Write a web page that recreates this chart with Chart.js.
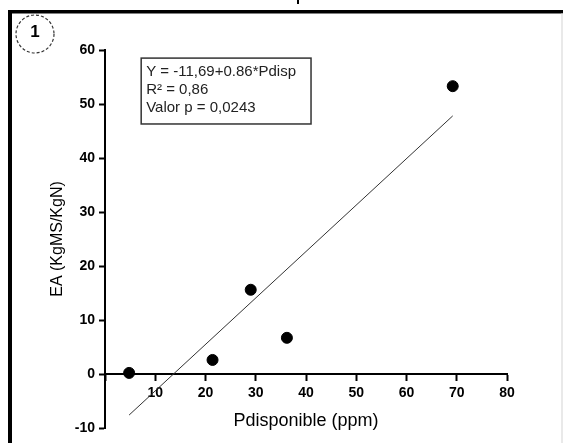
<!DOCTYPE html>
<html>
<head>
<meta charset="utf-8">
<script src="https://cdn.jsdelivr.net/npm/chart.js@4"></script>
<style>
  html, body { margin: 0; background: #fff; }
  canvas { display: block; }
</style>
</head>
<body>
<canvas id="chart" width="563" height="443"></canvas>
<script>
// data
const pDisp  = [4.8, 21.4, 29, 36.2, 69.2];
const eaVals = [0.2, 2.6, 15.6, 6.7, 53.3];
// fitted line end points (Y = -11,69 + 0.86*Pdisp)
const fitX = [4.8, 69.2];
const fitY = [-7.6, 47.8];
const xTicks = [0, 10, 20, 30, 40, 50, 60, 70, 80];
const yTicks = [-10, 0, 10, 20, 30, 40, 50, 60];
const statLines = ['Y = -11,69+0.86*Pdisp', 'R² = 0,86', 'Valor p = 0,0243'];
// stats box corners in data units
const boxX = [7.2, 41];
const boxY = [58.5, 46.3];

const FONT = "'Liberation Sans', Arial, sans-serif";

const framePlugin = {
  id: 'frame',
  beforeDraw(chart){
    const c = chart.ctx;
    c.save();
    c.fillStyle = '#fff';
    c.fillRect(0, 0, chart.width, chart.height);
    c.fillStyle = '#000';
    c.fillRect(8, 10, chart.width - 8, 3.5);
    c.fillRect(8, 10, 4, chart.height - 10);
    c.fillRect(297, 0, 2, 4);
    c.fillStyle = '#d4d4d4';
    c.fillRect(chart.width - 1.5, 13, 1, chart.height - 13);
    // panel number
    c.strokeStyle = '#333';
    c.lineWidth = 1.2;
    c.setLineDash([3, 2]);
    c.beginPath();
    c.arc(35, 34, 19, 0, Math.PI * 2);
    c.stroke();
    c.setLineDash([]);
    c.fillStyle = '#000';
    c.font = 'bold 17px ' + FONT;
    c.textAlign = 'center';
    c.textBaseline = 'middle';
    c.fillText('1', 35, 32);
    c.restore();
  }
};

const statsPlugin = {
  id: 'stats',
  afterDraw(chart){
    const c = chart.ctx, xs = chart.scales.x, ys = chart.scales.y;
    const l = xs.getPixelForValue(boxX[0]), r = xs.getPixelForValue(boxX[1]);
    const t = ys.getPixelForValue(boxY[0]), b = ys.getPixelForValue(boxY[1]);
    c.save();
    c.fillStyle = '#fff';
    c.fillRect(l, t, r - l, b - t);
    c.strokeStyle = '#333';
    c.lineWidth = 1.5;
    c.strokeRect(l, t, r - l, b - t);
    c.fillStyle = '#222';
    c.font = '15px ' + FONT;
    c.textAlign = 'left';
    c.textBaseline = 'alphabetic';
    statLines.forEach((s, i) => c.fillText(s, l + 5, t + 18 + i * 18));
    c.restore();
  }
};

new Chart(document.getElementById('chart').getContext('2d'), {
  type: 'scatter',
  data: {
    datasets: [
      {
        data: pDisp.map((x, i) => ({x, y: eaVals[i]})),
        backgroundColor: '#000', borderColor: '#000',
        pointRadius: 5.5, pointHoverRadius: 5.5
      },
      {
        data: fitX.map((x, i) => ({x, y: fitY[i]})),
        showLine: true, borderColor: '#333', borderWidth: 1,
        pointRadius: 0, fill: false
      }
    ]
  },
  options: {
    responsive: false,
    animation: false,
    layout: {padding: {top: 50, bottom: 15, left: 0, right: 56}},
    plugins: {legend: {display: false}, tooltip: {enabled: false}},
    scales: {
      x: {
        type: 'linear',
        position: {y: 0},
        min: 0, max: 80,
        afterBuildTicks: s => { s.ticks = xTicks.map(v => ({value: v})); },
        ticks: {
          callback: v => v === 0 ? '' : v,
          color: '#000', font: {family: FONT, size: 14, weight: 'bold'},
          padding: 5, maxRotation: 0, autoSkip: false
        },
        grid: {drawOnChartArea: false, tickLength: 6, tickWidth: 2, color: '#000'},
        border: {color: '#000', width: 2},
        title: {
          display: true, text: 'Pdisponible (ppm)', color: '#000',
          font: {family: FONT, size: 18}, padding: {top: 3, bottom: 0}
        }
      },
      y: {
        type: 'linear',
        min: -10, max: 60,
        afterBuildTicks: s => { s.ticks = yTicks.map(v => ({value: v})); },
        afterFit: s => { s.width = 105; },
        ticks: {
          color: '#000', font: {family: FONT, size: 14, weight: 'bold'},
          padding: 4, autoSkip: false
        },
        grid: {drawOnChartArea: false, tickLength: 6, tickWidth: 2, color: '#000'},
        border: {color: '#000', width: 2},
        title: {
          display: true, text: 'EA (KgMS/KgN)', color: '#000',
          font: {family: FONT, size: 16}, padding: {top: 48, bottom: 0}
        }
      }
    }
  },
  plugins: [framePlugin, statsPlugin]
});
</script>
</body>
</html>
